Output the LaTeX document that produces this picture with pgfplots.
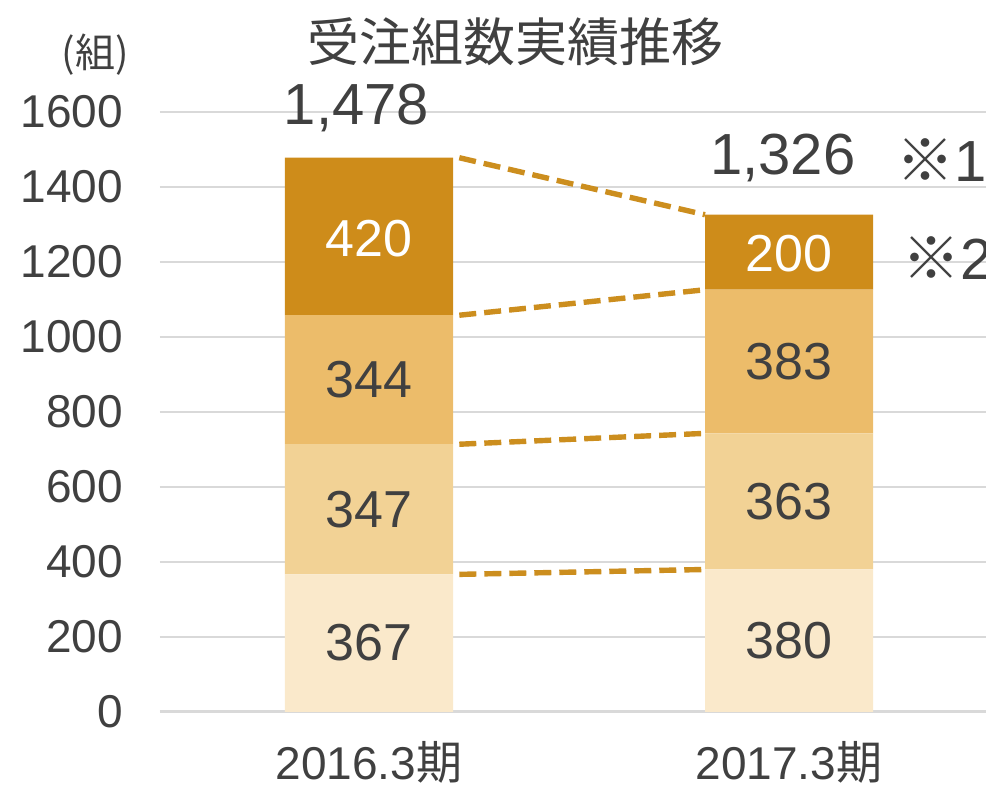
\documentclass[border=0pt]{standalone}
\usepackage{fontspec}
\setmainfont{Liberation Sans}
\newfontfamily\jp{Noto Sans CJK JP}
\usepackage{pgfplots}
\pgfplotsset{compat=1.18}

\definecolor{c1}{HTML}{FAE9CB}
\definecolor{c2}{HTML}{F2D295}
\definecolor{c3}{HTML}{ECBC6A}
\definecolor{c4}{HTML}{CE8C1A}
\definecolor{linecol}{HTML}{CC8E1E}
\definecolor{gridgray}{HTML}{D9D9D9}
\definecolor{txt}{HTML}{404040}

\pgfplotsset{base/.style={
  scale only axis, width=413pt, height=300pt,
  at={(0,0)}, anchor=south west,
  xmin=-0.4976, xmax=1.469, ymin=0, ymax=1600,
  clip=false,
}}

\begin{document}
\begin{tikzpicture}
\path[use as bounding box] (-80pt,-39pt) rectangle (413pt,356pt);
\begin{axis}[base,
  ybar stacked, bar width=0.4,
  xtick={0,1}, xticklabels={2016.3{\jp 期},2017.3{\jp 期}},
  ytick={0,200,...,1600},
  ymajorgrids, grid style={gridgray, line width=0.75pt},
  axis x line*=bottom, axis y line*=left,
  y axis line style={draw=none},
  x axis line style={gridgray, line width=1.5pt, -},
  major tick length=0pt,
  tick label style={text=txt},
  yticklabel style={font=\fontsize{23}{23}\selectfont, xshift=-15pt},
  xticklabel style={font=\fontsize{23}{23}\selectfont, yshift=-11pt},
  /pgf/number format/assume math mode=true,
  /pgf/number format/1000 sep={},
]
\addplot[fill=c1, draw=none] coordinates {(0,367) (1,380)};
\addplot[fill=c2, draw=none] coordinates {(0,347) (1,363)};
\addplot[fill=c3, draw=none] coordinates {(0,344) (1,383)};
\addplot[fill=c4, draw=none] coordinates {(0,420) (1,200)};
\end{axis}
\begin{axis}[base, hide axis]
\pgfplotsset{seg/.style={color=linecol, no marks, line width=2.7pt, dash pattern=on 8.5pt off 4pt}}
\addplot[seg] coordinates {(0.215,367) (0.8,380)};
\addplot[seg] coordinates {(0.215,714) (0.8,743)};
\addplot[seg] coordinates {(0.215,1058) (0.8,1126)};
\addplot[seg] coordinates {(0.215,1478) (0.8,1326)};
\begin{scope}[every node/.style={font=\fontsize{26}{26}\selectfont, text=txt}]
\node at (axis cs:0,184) {367};
\node at (axis cs:0,540) {347};
\node at (axis cs:0,886) {344};
\node[text=white] at (axis cs:0,1262) {420};
\node at (axis cs:1,190) {380};
\node at (axis cs:1,561) {363};
\node at (axis cs:1,934) {383};
\node[text=white] at (axis cs:1,1222) {200};
\end{scope}
\begin{scope}[every node/.style={font=\fontsize{29}{29}\selectfont, text=txt}]
\node at (axis cs:-0.03,1611) {1,478};
\node at (axis cs:0.985,1477) {1,326};
\node[anchor=west] at (axis cs:1.24,1472) {{\jp ※}1};
\node[anchor=west] at (axis cs:1.253,1211) {{\jp ※}2};
\end{scope}
\node[font=\jp\fontsize{26}{26}\selectfont, text=txt] at (axis cs:0.348,1787) {受注組数実績推移};
\node[font=\jp\fontsize{20}{20}\selectfont, text=txt] at (axis cs:-0.652,1752) {(組)};
\end{axis}
\end{tikzpicture}
\end{document}
